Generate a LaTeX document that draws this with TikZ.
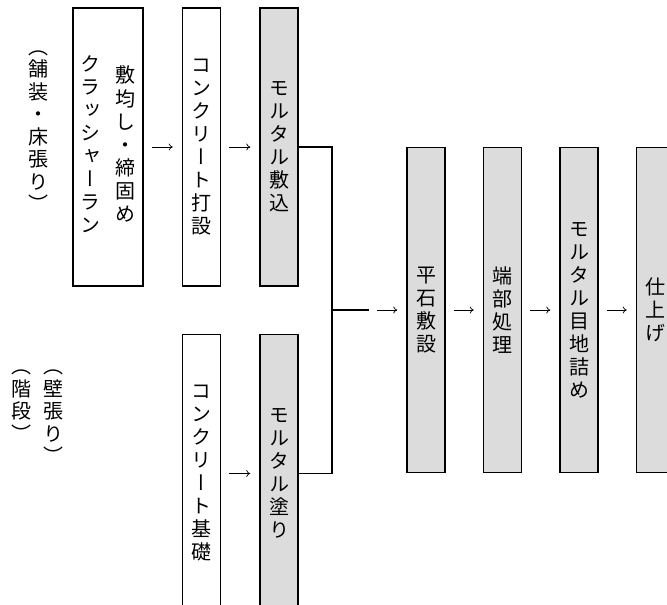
\documentclass[tikz,border=0pt]{standalone}
\usepackage{fontspec}
\newfontfamily\tatefont[RawFeature=+vert]{Noto Sans CJK JP}
\usetikzlibrary{positioning,arrows.meta}
\definecolor{boxgray}{RGB}{220,220,220}
% one vertical column of text
\newcommand\tatecol[1]{\begin{tabular}[c]{@{}c@{}}#1\end{tabular}}

\begin{document}
\begin{tikzpicture}[x=1pt,y=-1pt,
    stepbox/.style={draw, line width=1.5pt, minimum width=38pt, minimum height=278pt,
      inner sep=0pt, align=center, font=\tatefont\fontsize{20pt}{23pt}\selectfont},
    graybox/.style={stepbox, fill=boxgray},
    note/.style={inner sep=0pt, align=center, font=\tatefont\fontsize{20pt}{22.5pt}\selectfont},
    flow/.style={-{To[length=4pt,width=7pt]}, line width=0.7pt, shorten <=8pt, shorten >=9pt},
    joinline/.style={line width=1.5pt}]
  \clip (0,0) rectangle (667,605);

  % upper row: paving / floor
  \node[stepbox, minimum width=70pt] (spread) at (108,147)
    {\tatecol{ク\\ラ\\ッ\\シ\\ャ\\ー\\ラ\\ン}\hspace{15pt}\tatecol{敷\\均\\し\\・\\締\\固\\め}};
  \node[stepbox, right=38pt of spread] (pour) {コ\\ン\\ク\\リ\\ー\\ト\\打\\設};
  \node[graybox, right=38pt of pour] (mortarbed) {モ\\ル\\タ\\ル\\敷\\込};

  % lower row: wall / stairs
  \node[stepbox, below=47pt of pour] (base) {コ\\ン\\ク\\リ\\ー\\ト\\基\\礎};
  \node[graybox, below=47pt of mortarbed] (mortarcoat) {モ\\ル\\タ\\ル\\塗\\り};

  % common steps
  \coordinate (join) at (332,310);
  \coordinate (joinend) at (369,310);
  \node[graybox, minimum height=325pt] (lay) at (426,310) {平\\石\\敷\\設};
  \node[graybox, minimum height=325pt, right=37pt of lay] (edge) {端\\部\\処\\理};
  \node[graybox, minimum height=325pt, right=37pt of edge] (joint) {モ\\ル\\タ\\ル\\目\\地\\詰\\め};
  \node[graybox, minimum height=325pt, right=37pt of joint] (finish) {仕\\上\\げ};

  % side notes
  \node[note] (paving) at (38,131) {（\\舗\\装\\・\\床\\張\\り\\）};
  \node[note, anchor=north] (wall) at (53,370) {（\\壁\\張\\り\\）};
  \node[note, anchor=north] (stair) at (21,370) {（\\階\\段\\）};

  \draw[flow] (spread) -- (pour);
  \draw[flow] (pour) -- (mortarbed);
  \draw[flow] (base) -- (mortarcoat);
  \draw[joinline] (mortarbed.east) -| (join) |- (mortarcoat.east);
  \draw[joinline] (join) -- (joinend);
  \draw[flow] (joinend) -- (lay);
  \draw[flow] (lay) -- (edge);
  \draw[flow] (edge) -- (joint);
  \draw[flow] (joint) -- (finish);
\end{tikzpicture}
\end{document}
